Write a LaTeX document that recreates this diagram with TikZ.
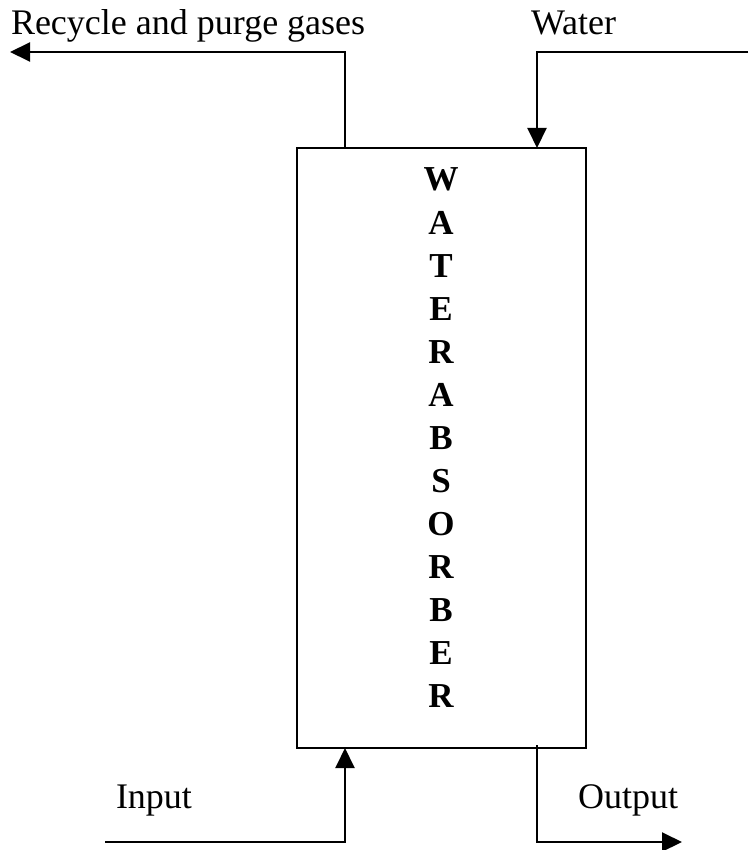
\documentclass[tikz,border=0pt]{standalone}
\usepackage{fontspec}
\setmainfont{Liberation Serif}
\usepackage{tikz}
\usetikzlibrary{arrows.meta, positioning}

\begin{document}
\begin{tikzpicture}[x=1pt, y=-1pt, line width=2pt,
    flow/.style={draw, -{Triangle[length=20pt, width=19pt]}},
    label/.style={anchor=base west, inner sep=0pt, font=\fontsize{36}{40}\selectfont},
    letter/.style={anchor=base, inner sep=0pt, font=\fontsize{35}{40}\selectfont\bfseries}]
    \useasboundingbox (0,0) rectangle (748,850);
    \node [draw, minimum width=289pt, minimum height=600pt, inner sep=0pt] (absorber) at (441.5,448) {};
    \foreach \l [count=\i] in {W,A,T,E,R,A,B,S,O,R,B,E,R}
      \node [letter] (letter\i) at (441,{191+43*(\i-1)}) {\l};
    % streams
    \coordinate (gastap) at (345,148);
    \coordinate (gasout) at (10,52);
    \coordinate (waterin) at (748,52);
    \coordinate (watertap) at (537,148);
    \coordinate (feed) at (105,842);
    \coordinate (feedtap) at (345,748);
    \coordinate (producttap) at (537,745);
    \coordinate (product) at (682,842);
    \draw [flow] (gastap) |- (gasout);
    \draw [flow] (waterin) -| (watertap);
    \draw [flow] (feed) -| (feedtap);
    \draw [flow] (producttap) |- (product);
    \node [label] (gaslabel) at (10,35) {Recycle and purge gases};
    \node [label] (waterlabel) at (530,35) {Water};
    \node [label] (inputlabel) at (115,808) {Input};
    \node [label] (outputlabel) at (577,808) {Output};
\end{tikzpicture}
\end{document}
